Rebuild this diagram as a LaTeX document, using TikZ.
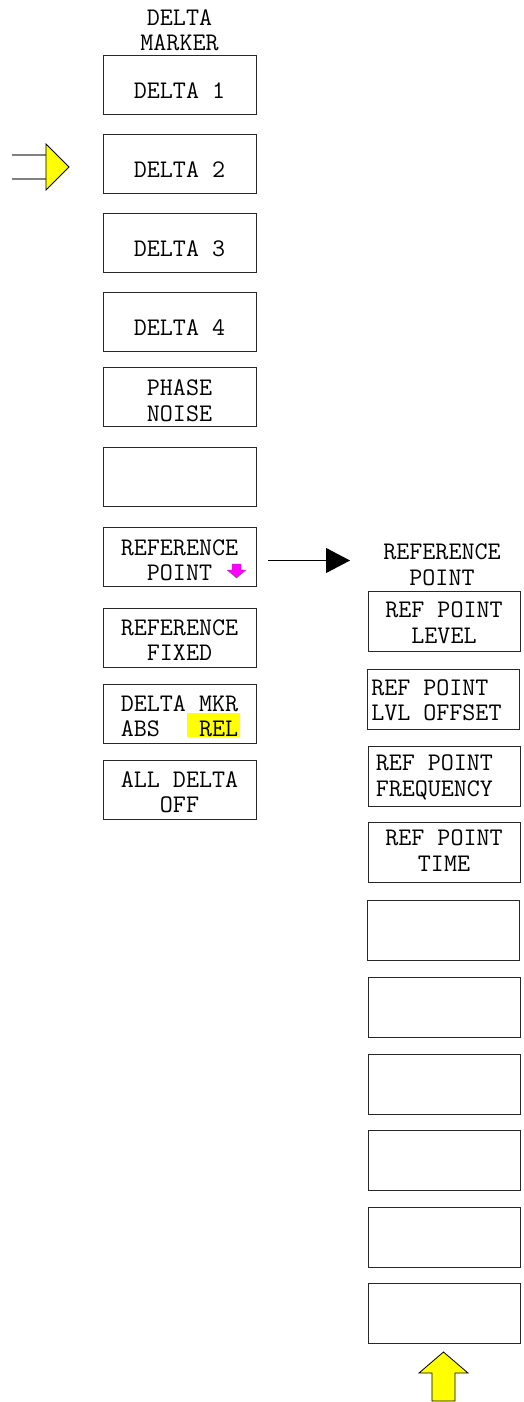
\documentclass[tikz,border=0pt]{standalone}
\usepackage{fontspec}
\usetikzlibrary{arrows.meta}
\definecolor{hlyellow}{RGB}{255,255,0}
\definecolor{mag}{RGB}{255,0,255}
\definecolor{frame}{RGB}{40,40,40}
\begin{document}
\begin{tikzpicture}[x=1pt,y=-1pt,
  btn/.style={draw=frame,line width=0.9pt,minimum width=153pt,minimum height=59pt,inner sep=0pt},
  rbtn/.style={draw=frame,line width=0.9pt,minimum width=152pt,minimum height=60pt,inner sep=0pt},
  lbl/.style={font=\ttfamily\fontsize{25.3}{25.5}\selectfont,align=center,inner sep=0pt},
  ttl/.style={font=\ttfamily\fontsize{25.3}{25.5}\selectfont,align=center,inner sep=0pt},
  yarrow/.style={fill=hlyellow,draw=black,line width=0.8pt,line join=miter},
  glines/.style={draw=gray,line width=1.4pt}]
\useasboundingbox (0,0) rectangle (523,1402);
% left column title
\node[ttl] (ttlL) at (179.5,30) {DELTA\\MARKER};
% left column boxes
\node[btn] (l1) at (179.5,85) {};
\node[btn] (l2) at (179.5,163.5) {};
\node[btn] (l3) at (179.5,242.5) {};
\node[btn] (l4) at (179.5,321.5) {};
\node[btn] (l5) at (179.5,396.5) {};
\node[btn] (l6) at (179.5,476.5) {};
\node[btn] (l7) at (179.5,556.5) {};
\node[btn] (l8) at (179.5,638) {};
\node[btn] (l9) at (179.5,714) {};
\node[btn] (l10) at (179.5,790) {};
% REL highlight
\fill[hlyellow] (187,713) rectangle (240,737);
% left texts
\node[lbl] (t1) at ([yshift=-6pt]l1.center) {DELTA 1};
\node[lbl] (t2) at ([yshift=-6pt]l2.center) {DELTA 2};
\node[lbl] (t3) at ([yshift=-6pt]l3.center) {DELTA 3};
\node[lbl] (t4) at ([yshift=-6pt]l4.center) {DELTA 4};
\node[lbl] (t5) at ([yshift=-4pt]l5.center) {PHASE\\NOISE};
\node[lbl] (t7) at ([yshift=-4pt]l7.center) {REFERENCE\\POINT};
\node[lbl] (t8) at ([yshift=-2pt]l8.center) {REFERENCE\\FIXED};
\node[lbl,align=left] (t9) at ([yshift=-2pt]l9.center) {DELTA MKR\\ABS~~~REL};
\node[lbl] (t10) at ([yshift=-2pt]l10.center) {ALL DELTA\\OFF};
% magenta down arrow
\fill[mag,draw=black!60,line width=0.3pt] (232,564) -- (241,564) -- (241,570) -- (246,570) -- (236.5,578) -- (227,570) -- (232,570) -- cycle;
% yellow marker arrow at left
\coordinate (g1a) at (12,155);
\coordinate (g1b) at (46,155);
\coordinate (g2a) at (12,179);
\coordinate (g2b) at (46,179);
\draw[glines] (g1a) -- (g1b);
\draw[glines] (g2a) -- (g2b);
\draw[yarrow] (46,144) -- (69,167) -- (46,190) -- cycle;
% connector to submenu
\coordinate (c0) at ([xshift=12pt,yshift=-4pt]l7.east);
\coordinate (c1) at (350,560.5);
\draw[line width=0.9pt,-{Triangle[length=24pt,width=25pt]}] (c0) -- (c1);
% right column title
\node[ttl] (ttlR) at (442,565) {REFERENCE\\POINT};
% right column boxes
\node[rbtn] (r1) at (444,621.5) {};
\node[rbtn] (r2) at (443.5,699.5) {};
\node[rbtn] (r3) at (444,776.5) {};
\node[rbtn] (r4) at (444,852.5) {};
\node[rbtn] (r5) at (443.5,930) {};
\node[rbtn] (r6) at (444,1007.5) {};
\node[rbtn] (r7) at (444,1084.5) {};
\node[rbtn] (r8) at (444,1160.5) {};
\node[rbtn] (r9) at (444,1237) {};
\node[rbtn] (r10) at (444,1313.5) {};
% right texts
\node[lbl] (s1) at ([yshift=-1pt]r1.center) {REF POINT\\LEVEL};
\node[lbl,align=left,anchor=west] (s2) at ([xshift=4pt,yshift=-1pt]r2.west) {REF POINT\\LVL OFFSET};
\node[lbl,align=left,anchor=west] (s3) at ([xshift=8pt,yshift=-1pt]r3.west) {REF POINT\\FREQUENCY};
\node[lbl] (s4) at ([yshift=2pt]r4.center) {REF POINT\\TIME};
% yellow up arrow at bottom
\draw[yarrow] (432,1401) -- (432,1373) -- (419,1373) -- (443.5,1352) -- (468,1373) -- (455,1373) -- (455,1401) -- cycle;
\end{tikzpicture}
\end{document}
